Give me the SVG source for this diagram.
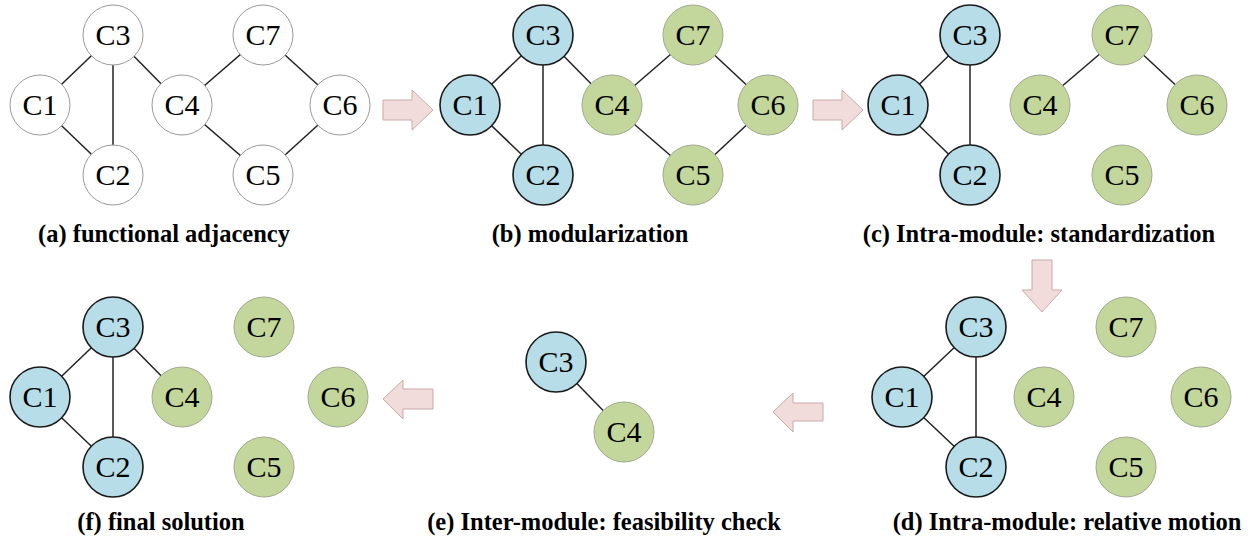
<svg xmlns="http://www.w3.org/2000/svg" width="1251" height="539" viewBox="0 0 1251 539">
<style>
.e{stroke:#222;stroke-width:1.5;fill:none}
.w{fill:#fff;stroke:#999;stroke-width:1}
.b{fill:#b7dde8;stroke:#1a1a1a;stroke-width:1.6}
.g{fill:#c3d69b;stroke:#a0a890;stroke-width:1}
.t{font-family:"Liberation Serif","Times New Roman",serif;font-size:30px;text-anchor:middle;fill:#000}
.cap{font-family:"Liberation Serif","Times New Roman",serif;font-size:24.5px;font-weight:bold;text-anchor:middle;fill:#000}
.ar{fill:#f2dcdb;stroke:#c9a9a9;stroke-width:1}
</style>
<rect width="1251" height="539" fill="#fff"/>
<g id="connectors">
<line class="e" x1="40" y1="105" x2="113" y2="35"/>
<line class="e" x1="113" y1="35" x2="113" y2="175"/>
<line class="e" x1="40" y1="105" x2="113" y2="175"/>
<line class="e" x1="113" y1="35" x2="182" y2="105"/>
<line class="e" x1="182" y1="105" x2="263" y2="35"/>
<line class="e" x1="263" y1="35" x2="340" y2="105"/>
<line class="e" x1="182" y1="105" x2="263" y2="175"/>
<line class="e" x1="263" y1="175" x2="340" y2="105"/>
<line class="e" x1="470" y1="105" x2="543" y2="35"/>
<line class="e" x1="543" y1="35" x2="543" y2="175"/>
<line class="e" x1="470" y1="105" x2="543" y2="175"/>
<line class="e" x1="543" y1="35" x2="612" y2="105"/>
<line class="e" x1="612" y1="105" x2="693" y2="35"/>
<line class="e" x1="693" y1="35" x2="768" y2="105"/>
<line class="e" x1="612" y1="105" x2="693" y2="175"/>
<line class="e" x1="693" y1="175" x2="768" y2="105"/>
<line class="e" x1="898" y1="105" x2="970" y2="35"/>
<line class="e" x1="970" y1="35" x2="970" y2="175"/>
<line class="e" x1="898" y1="105" x2="970" y2="175"/>
<line class="e" x1="1040" y1="105" x2="1122" y2="35"/>
<line class="e" x1="1122" y1="35" x2="1197" y2="105"/>
<line class="e" x1="902" y1="397" x2="976" y2="327"/>
<line class="e" x1="976" y1="327" x2="976" y2="467"/>
<line class="e" x1="902" y1="397" x2="976" y2="467"/>
<line class="e" x1="556" y1="362" x2="624" y2="432"/>
<line class="e" x1="40" y1="397" x2="113" y2="327"/>
<line class="e" x1="113" y1="327" x2="113" y2="467"/>
<line class="e" x1="40" y1="397" x2="113" y2="467"/>
<line class="e" x1="113" y1="327" x2="182" y2="397"/>
</g>
<g id="arrows">
<polygon class="ar" points="383,100 412,100 412,90 433,110 412,130 412,120 383,120"/>
<polygon class="ar" points="813,100 842,100 842,90 863,110 842,130 842,120 813,120"/>
<polygon class="ar" points="1032,260 1052,260 1052,290 1062,290 1042,312 1022,290 1032,290"/>
<polygon class="ar" points="823,403 793,403 793,393 773,412 793,432 793,421 823,421"/>
<polygon class="ar" points="433,389 403,389 403,380 383,399 403,419 403,409 433,409"/>
</g>
<g id="a-C1"><circle class="w" cx="40" cy="105" r="30"/><text class="t" x="40" y="115">C1</text></g>
<g id="a-C2"><circle class="w" cx="113" cy="175" r="30"/><text class="t" x="113" y="185">C2</text></g>
<g id="a-C3"><circle class="w" cx="113" cy="35" r="30"/><text class="t" x="113" y="45">C3</text></g>
<g id="a-C4"><circle class="w" cx="182" cy="105" r="30"/><text class="t" x="182" y="115">C4</text></g>
<g id="a-C5"><circle class="w" cx="263" cy="175" r="30"/><text class="t" x="263" y="185">C5</text></g>
<g id="a-C6"><circle class="w" cx="340" cy="105" r="30"/><text class="t" x="340" y="115">C6</text></g>
<g id="a-C7"><circle class="w" cx="263" cy="35" r="30"/><text class="t" x="263" y="45">C7</text></g>
<text class="cap" x="164" y="242">(a) functional adjacency</text>
<g id="b-C1"><circle class="b" cx="470" cy="105" r="30"/><text class="t" x="470" y="115">C1</text></g>
<g id="b-C2"><circle class="b" cx="543" cy="175" r="30"/><text class="t" x="543" y="185">C2</text></g>
<g id="b-C3"><circle class="b" cx="543" cy="35" r="30"/><text class="t" x="543" y="45">C3</text></g>
<g id="b-C4"><circle class="g" cx="612" cy="105" r="30"/><text class="t" x="612" y="115">C4</text></g>
<g id="b-C5"><circle class="g" cx="693" cy="175" r="30"/><text class="t" x="693" y="185">C5</text></g>
<g id="b-C6"><circle class="g" cx="768" cy="105" r="30"/><text class="t" x="768" y="115">C6</text></g>
<g id="b-C7"><circle class="g" cx="693" cy="35" r="30"/><text class="t" x="693" y="45">C7</text></g>
<text class="cap" x="590" y="242">(b) modularization</text>
<g id="c-C1"><circle class="b" cx="898" cy="105" r="30"/><text class="t" x="898" y="115">C1</text></g>
<g id="c-C2"><circle class="b" cx="970" cy="175" r="30"/><text class="t" x="970" y="185">C2</text></g>
<g id="c-C3"><circle class="b" cx="970" cy="35" r="30"/><text class="t" x="970" y="45">C3</text></g>
<g id="c-C4"><circle class="g" cx="1040" cy="105" r="30"/><text class="t" x="1040" y="115">C4</text></g>
<g id="c-C5"><circle class="g" cx="1122" cy="175" r="30"/><text class="t" x="1122" y="185">C5</text></g>
<g id="c-C6"><circle class="g" cx="1197" cy="105" r="30"/><text class="t" x="1197" y="115">C6</text></g>
<g id="c-C7"><circle class="g" cx="1122" cy="35" r="30"/><text class="t" x="1122" y="45">C7</text></g>
<text class="cap" x="1039" y="242">(c) Intra-module: standardization</text>
<g id="d-C1"><circle class="b" cx="902" cy="397" r="30"/><text class="t" x="902" y="407">C1</text></g>
<g id="d-C2"><circle class="b" cx="976" cy="467" r="30"/><text class="t" x="976" y="477">C2</text></g>
<g id="d-C3"><circle class="b" cx="976" cy="327" r="30"/><text class="t" x="976" y="337">C3</text></g>
<g id="d-C4"><circle class="g" cx="1044" cy="397" r="30"/><text class="t" x="1044" y="407">C4</text></g>
<g id="d-C5"><circle class="g" cx="1126" cy="467" r="30"/><text class="t" x="1126" y="477">C5</text></g>
<g id="d-C6"><circle class="g" cx="1201" cy="397" r="30"/><text class="t" x="1201" y="407">C6</text></g>
<g id="d-C7"><circle class="g" cx="1126" cy="327" r="30"/><text class="t" x="1126" y="337">C7</text></g>
<text class="cap" x="1067" y="530">(d) Intra-module: relative motion</text>
<g id="e-C3"><circle class="b" cx="556" cy="362" r="30"/><text class="t" x="556" y="372">C3</text></g>
<g id="e-C4"><circle class="g" cx="624" cy="432" r="30"/><text class="t" x="624" y="442">C4</text></g>
<text class="cap" x="604" y="530">(e) Inter-module: feasibility check</text>
<g id="f-C1"><circle class="b" cx="40" cy="397" r="30"/><text class="t" x="40" y="407">C1</text></g>
<g id="f-C2"><circle class="b" cx="113" cy="467" r="30"/><text class="t" x="113" y="477">C2</text></g>
<g id="f-C3"><circle class="b" cx="113" cy="327" r="30"/><text class="t" x="113" y="337">C3</text></g>
<g id="f-C4"><circle class="g" cx="182" cy="397" r="30"/><text class="t" x="182" y="407">C4</text></g>
<g id="f-C5"><circle class="g" cx="264" cy="467" r="30"/><text class="t" x="264" y="477">C5</text></g>
<g id="f-C6"><circle class="g" cx="338" cy="397" r="30"/><text class="t" x="338" y="407">C6</text></g>
<g id="f-C7"><circle class="g" cx="264" cy="327" r="30"/><text class="t" x="264" y="337">C7</text></g>
<text class="cap" x="161" y="530">(f) final solution</text>
</svg>
